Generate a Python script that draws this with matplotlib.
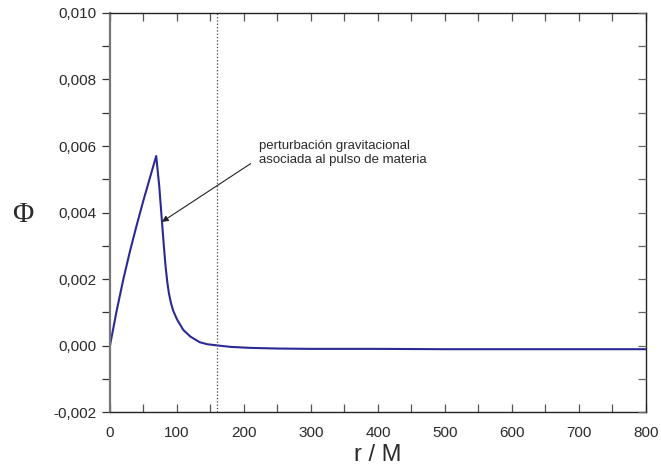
import matplotlib
matplotlib.use('Agg')
import matplotlib.pyplot as plt
from matplotlib.ticker import MultipleLocator, FuncFormatter

# Phi(r)
r = [0, 10, 20, 30, 40, 50, 60, 69, 73.6, 77.1, 80.6, 83, 85.6, 88, 91, 94.5, 100,
     109.4, 120, 134, 145, 161.7, 180, 209, 250, 300, 400, 500, 600, 700, 800]
phi = [0, 0.00105, 0.002, 0.00285, 0.00363, 0.00437, 0.00507, 0.0057, 0.00478, 0.00386,
       0.00295, 0.00238, 0.0019, 0.00157, 0.00128, 0.00104, 0.00079,
       0.00047, 0.00027, 0.0001, 0.00004, 0.0, -0.00004, -0.00007, -0.00009, -0.0001,
       -0.0001, -0.00011, -0.00011, -0.00011, -0.00011]

marker_r = 160
note = 'perturbación gravitacional\nasociada al pulso de materia'
note_pos = (222, 0.00579)
arrow_start = (210, 0.00547)
arrow_tip = (77.6, 0.00372)

plt.rcParams['font.family'] = ['Liberation Sans', 'DejaVu Sans']
text_col = '#2a2a2a'

fig = plt.figure(figsize=(6.61, 4.72), dpi=100)
ax = fig.add_axes([0.1664, 0.127, 0.8106, 0.8455])

ax.plot(r, phi, color='#2a2a96', lw=1.5)
ax.axvline(marker_r, color='#444444', ls=':', lw=0.9)

ax.text(note_pos[0], note_pos[1], note, fontsize=9.5, color=text_col,
        ha='left', va='center', linespacing=1.3)
ax.annotate('', xy=arrow_tip, xytext=arrow_start,
            arrowprops=dict(arrowstyle='-|>', color='#222222', lw=0.8,
                            mutation_scale=9, shrinkA=0, shrinkB=0))

ax.set_xlim(0, 800)
ax.set_ylim(-0.002, 0.010)
ax.xaxis.set_major_locator(MultipleLocator(100))
ax.xaxis.set_minor_locator(MultipleLocator(50))
ax.yaxis.set_major_locator(MultipleLocator(0.002))
ax.yaxis.set_minor_locator(MultipleLocator(0.001))
ax.yaxis.set_major_formatter(FuncFormatter(lambda v, p: f'{v:.3f}'.replace('.', ',').replace('−', '-')))

ax.tick_params(axis='x', which='both', direction='in', top=True, length=6, width=0.9,
               labelsize=11, colors='#555555', labelcolor=text_col, pad=10)
ax.tick_params(axis='y', which='both', direction='out', length=6, width=0.9,
               labelsize=11, colors='#333333', labelcolor=text_col, pad=4)

for side in ['top', 'right', 'bottom']:
    ax.spines[side].set_color('#222222')
    ax.spines[side].set_linewidth(1.0)
ax.spines['left'].set_color('#777777')
ax.spines['left'].set_linewidth(1.6)

# inward ticks on the right spine
ax2 = ax.twinx()
ax2.set_ylim(ax.get_ylim())
ax2.yaxis.set_major_locator(MultipleLocator(0.002))
ax2.yaxis.set_minor_locator(MultipleLocator(0.001))
ax2.tick_params(axis='y', which='both', direction='in', length=6, width=0.9,
                labelright=False, colors='#666666')
for s in ax2.spines.values():
    s.set_visible(False)

ax.set_xlabel('r / M', fontsize=17, color=text_col, labelpad=3)
ax.set_ylabel('Φ', fontsize=21, rotation=0, family=['Liberation Serif', 'DejaVu Serif'],
              color=text_col, va='center', ha='center')
ax.yaxis.set_label_coords(-0.163, 0.495)

fig.savefig('out.png', dpi=100)
